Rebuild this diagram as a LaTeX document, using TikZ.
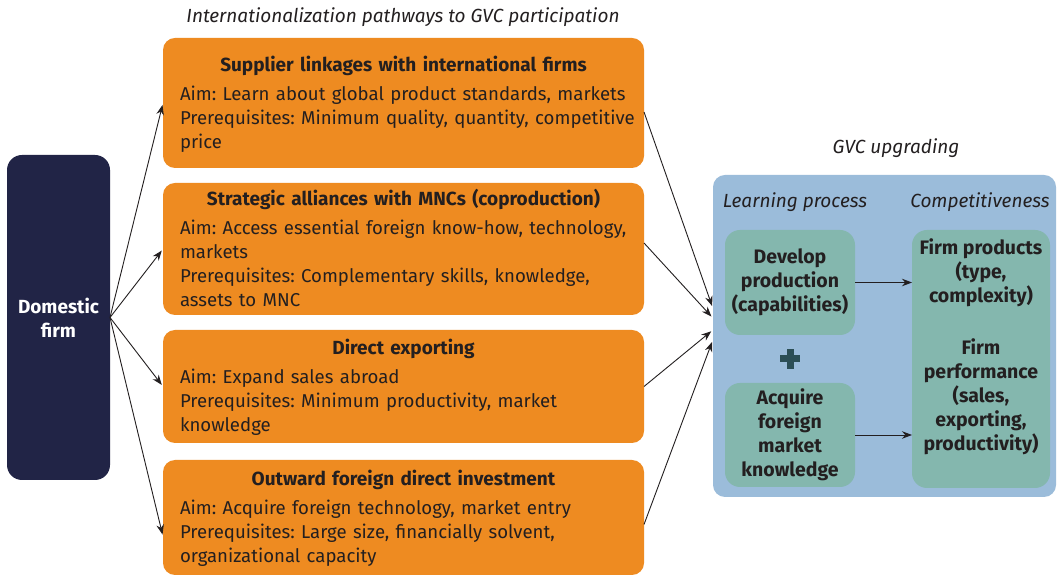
\documentclass[tikz,border=0pt]{standalone}
\usepackage{fontspec}
\setmainfont{Fira Sans}
\usetikzlibrary{arrows.meta,calc}
\frenchspacing
\begin{document}
\begin{tikzpicture}[x=1pt,y=1pt,
  txt/.style={text=textColor,inner sep=0pt,outer sep=0pt,font=\fontsize{19}{24}\selectfont},
  titletxt/.style={txt,font=\fontsize{19}{24}\selectfont\itshape},
  pathway/.style={txt,fill=orangeColor,rounded corners=12,minimum width=481,
    text width=481,inner xsep=0,align=left},
  learnbox/.style={txt,fill=tealColor,rounded corners=15,align=center,
    font=\fontsize{19.5}{24}\selectfont\bfseries},
  link/.style={draw=textColor,line width=0.9pt,-{Stealth[length=10,width=7.5]},shorten >=2}]
\definecolor{fillColor}{RGB}{255,255,255}
\definecolor{textColor}{RGB}{35,31,32}
\definecolor{orangeColor}{RGB}{238,139,33}
\definecolor{navyColor}{RGB}{33,36,70}
\definecolor{panelColor}{RGB}{155,188,218}
\definecolor{tealColor}{RGB}{132,183,174}
\definecolor{plusColor}{RGB}{43,78,85}
\newcommand{\pathtext}[2]{{\centering\bfseries\rule{0pt}{21pt}#1\par}\vspace{7pt}%
  \hspace*{17pt}{\fontsize{18.6}{24}\selectfont\begin{tabular}{@{}l@{}}#2\end{tabular}}}
\path[use as bounding box,fill=fillColor] (0,0) rectangle (1057,575);

% left side
\node[titletxt] (leftTitle) at (403,558) {Internationalization pathways to GVC participation};

\node[txt,fill=navyColor,rounded corners=15,minimum width=103,minimum height=325,
  text=white,align=center,font=\fontsize{19}{24}\selectfont\bfseries] (firm) at (58.5,257.5) {Domestic\\firm};

\node[pathway,minimum height=130] (supplier) at (403.5,472) {\pathtext{Supplier linkages with international firms}
{Aim: Learn about global product standards, markets\\
Prerequisites: Minimum quality, quantity, competitive\\
price}};

\node[pathway,minimum height=132] (alliance) at (403.5,326) {\pathtext{Strategic alliances with MNCs (coproduction)}
{Aim: Access essential foreign know-how, technology,\\
markets\\
Prerequisites: Complementary skills, knowledge,\\
assets to MNC}};

\node[pathway,minimum height=113] (exporting) at (403.5,188.5) {\pathtext{Direct exporting}
{Aim: Expand sales abroad\\
Prerequisites: Minimum productivity, market\\
knowledge}};

\node[pathway,minimum height=115] (fdi) at (403.5,57.5) {\pathtext{Outward foreign direct investment}
{Aim: Acquire foreign technology, market entry\\
Prerequisites: Large size, financially solvent,\\
organizational capacity}};

% right side
\node[titletxt] (rightTitle) at (896,427) {GVC upgrading};
\node[fill=panelColor,rounded corners=12,minimum width=343,minimum height=322] (panel) at (884.5,239) {};
\node[titletxt] (learnHead) at (795,373) {Learning process};
\node[titletxt] (compHead) at (980,373) {Competitiveness};

\node[learnbox,minimum width=130,minimum height=105] (develop) at (790,292.5) {Develop\\production\\(capabilities)};
\node[learnbox,minimum width=130,minimum height=104] (acquire) at (790,140) {Acquire\\foreign\\market\\knowledge};
\node[learnbox,minimum width=138,minimum height=258] (compete) at (981,216) {};
\node[txt,align=center,font=\fontsize{19.5}{24}\selectfont\bfseries] (products) at (981,302) {Firm products\\(type,\\complexity)};
\node[txt,align=center,font=\fontsize{19.5}{24}\selectfont\bfseries] (performance) at (981,178) {Firm\\performance\\(sales,\\exporting,\\productivity)};

\fill[plusColor] ($(develop.south)!0.5!(acquire.north)+(-10,-3.5)$) rectangle ++(20,7);
\fill[plusColor] ($(develop.south)!0.5!(acquire.north)+(-3.5,-10)$) rectangle ++(7,20);

% connectors
\draw[link] (firm.east) -- (supplier.west);
\draw[link] (firm.east) -- (alliance.west);
\draw[link] (firm.east) -- (exporting.west);
\draw[link] (firm.east) -- ($(fdi.west)+(0,-19)$);

\draw[link] ($(supplier.east)+(0,-9)$) -- ($(panel.west)+(0,28)$);
\draw[link] ($(alliance.east)+(0,6)$) -- ($(panel.west)+(0,18)$);
\draw[link] (exporting.east) -- ($(panel.west)+(0,6)$);
\draw[link] ($(fdi.east)+(0,-7)$) -- ($(panel.west)+(0,-4)$);

\draw[link,shorten >=0] (develop.east) -- (develop.east -| compete.west);
\draw[link,shorten >=0] (acquire.east) -- (acquire.east -| compete.west);
\end{tikzpicture}
\end{document}
